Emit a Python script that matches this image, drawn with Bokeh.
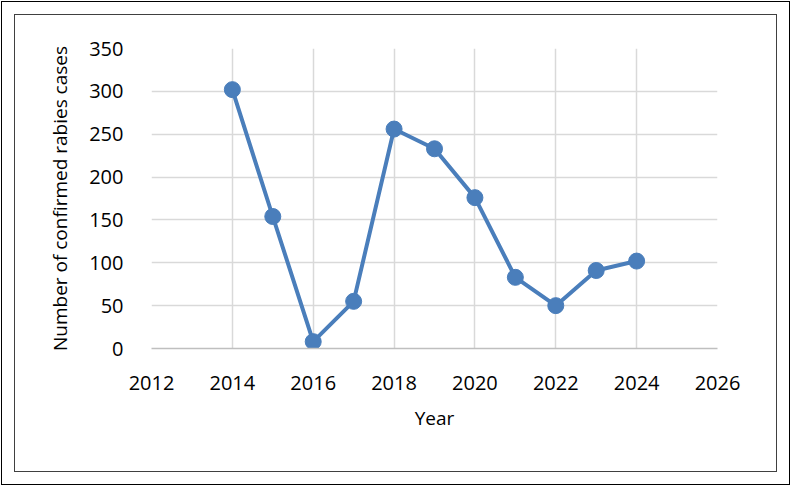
from bokeh.plotting import figure
from bokeh.models import FixedTicker, InlineStyleSheet
from bokeh.embed import file_html
from bokeh.resources import INLINE

years = [2014, 2015, 2016, 2017, 2018, 2019, 2020, 2021, 2022, 2023, 2024]
cases = [302, 154, 8, 55, 256, 233, 176, 83, 50, 91, 102]
x_ticks = [2012, 2014, 2016, 2018, 2020, 2022, 2024, 2026]
y_ticks = [0, 50, 100, 150, 200, 250, 300, 350]

FONT = "Open Sans"
BLUE = "#4a7ebb"

p = figure(width=791, height=486, x_range=(2012, 2026), y_range=(0, 350),
           output_backend="svg", toolbar_location=None,
           min_border_left=151, min_border_right=74,
           min_border_top=48, min_border_bottom=138)
p.outline_line_color = None
p.background_fill_color = "white"
p.border_fill_color = None

p.xaxis.ticker = FixedTicker(ticks=x_ticks)
p.yaxis.ticker = FixedTicker(ticks=y_ticks)
for ax in (p.xaxis, p.yaxis):
    ax.major_tick_line_color = None
    ax.minor_tick_line_color = None
    ax.major_label_text_font = FONT
    ax.major_label_text_font_size = "20px"
    ax.major_label_text_color = "black"
    ax.axis_label_text_font = FONT
    ax.axis_label_text_font_size = "19px"
    ax.axis_label_text_font_style = "normal"
    ax.axis_label_text_color = "black"
p.xaxis.axis_line_color = "#bfbfbf"
p.xaxis.axis_line_width = 1.5
p.yaxis.axis_line_color = None
p.xaxis.axis_label = "Year"
p.yaxis.axis_label = "Number of confirmed rabies cases"
p.xaxis.major_label_standoff = 21
p.yaxis.major_label_standoff = 22
p.xaxis.axis_label_standoff = 12
p.yaxis.axis_label_standoff = 13

p.xgrid.ticker = FixedTicker(ticks=x_ticks)
p.ygrid.ticker = FixedTicker(ticks=y_ticks)
for g in (p.xgrid, p.ygrid):
    g.grid_line_color = "#d9d9d9"
    g.grid_line_width = 1.5

p.line(years, cases, line_color=BLUE, line_width=4)
p.scatter(years, cases, size=16, fill_color=BLUE, line_color=BLUE)

p.stylesheets = [InlineStyleSheet(css=(
    ":host { background: white; box-shadow: "
    "inset 0 0 0 1px white, inset 0 0 0 2px black, "
    "inset 0 0 0 14px white, inset 0 0 0 15px #404040; }"
))]

open("out.html", "w").write(file_html(p, INLINE))
